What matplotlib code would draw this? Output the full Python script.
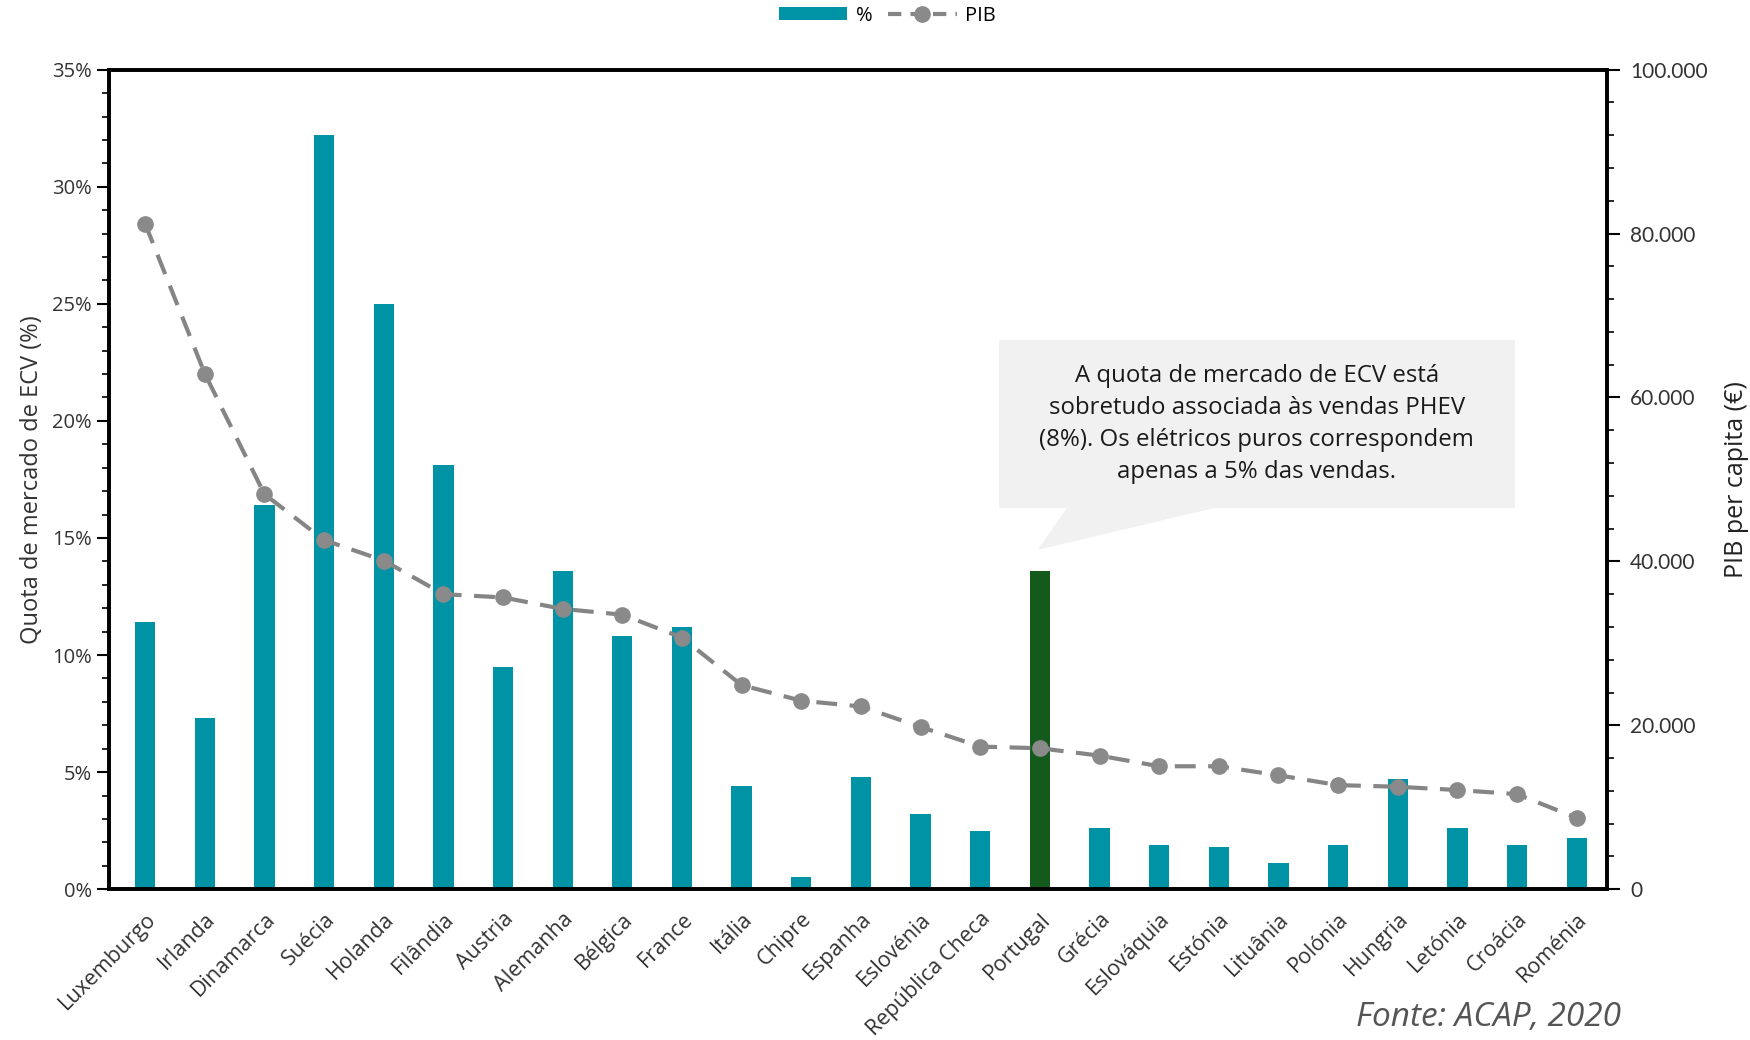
import matplotlib
matplotlib.use("Agg")
import matplotlib.pyplot as plt
from matplotlib.ticker import FuncFormatter, MultipleLocator
from matplotlib.patches import Polygon, Rectangle
from matplotlib.lines import Line2D
from matplotlib.patches import Patch

countries = ["Luxemburgo", "Irlanda", "Dinamarca", "Suécia", "Holanda", "Filândia",
             "Austria", "Alemanha", "Bélgica", "France", "Itália", "Chipre", "Espanha",
             "Eslovénia", "República Checa", "Portugal", "Grécia", "Eslováquia",
             "Estónia", "Lituânia", "Polónia", "Hungria", "Letónia", "Croácia", "Roménia"]
quota = [11.4, 7.3, 16.4, 32.2, 25.0, 18.1, 9.5, 13.6, 10.8, 11.2, 4.4, 0.5, 4.8,
         3.2, 2.5, 13.6, 2.6, 1.9, 1.8, 1.1, 1.9, 4.7, 2.6, 1.9, 2.2]
pib = [81200, 62900, 48200, 42600, 40100, 36000, 35600, 34200, 33500, 30700, 24900,
       23000, 22300, 19800, 17400, 17200, 16300, 15000, 15000, 13900, 12700, 12500,
       12100, 11600, 8700]
highlight = "Portugal"

teal = "#0093A6"
green = "#135A1C"
grey = "#858585"
txt = "#333333"

fig = plt.figure(figsize=(17.5, 10.4), dpi=100)
ax = fig.add_axes([0.0625, 0.145, 0.8555, 0.788])
x = list(range(len(countries)))
colors = [green if c == highlight else teal for c in countries]
ax.bar(x, quota, width=0.34, color=colors, zorder=2)
ax.set_xlim(-0.6, len(countries) - 0.5)
ax.set_ylim(0, 35)
ax.yaxis.set_major_locator(MultipleLocator(5))
ax.yaxis.set_minor_locator(MultipleLocator(1))
ax.yaxis.set_major_formatter(FuncFormatter(lambda v, p: f"{v:.0f}%"))
ax.tick_params(axis="y", which="major", length=9, width=1.5, labelsize=14.5, labelcolor=txt,
               direction="out")
ax.tick_params(axis="y", which="minor", length=5, width=1.2, direction="out")
for lab in ax.get_yticklabels():
    lab.set_family("Open Sans")
ax.set_xticks(x)
ax.set_xticklabels(countries, rotation=45, ha="right", rotation_mode="anchor",
                   fontsize=15.5, color=txt, family="Open Sans")
ax.tick_params(axis="x", length=0, pad=14)
ax.set_ylabel("Quota de mercado de ECV (%)", fontsize=17, color=txt, family="Open Sans",
              labelpad=6)
for s in ax.spines.values():
    s.set_linewidth(2.6)
    s.set_color("black")

ax2 = ax.twinx()
ax2.set_ylim(0, 100000)
ax2.yaxis.set_major_locator(MultipleLocator(20000))
ax2.yaxis.set_minor_locator(MultipleLocator(4000))
ax2.yaxis.set_major_formatter(FuncFormatter(lambda v, p: f"{int(v):,}".replace(",", ".")))
ax2.tick_params(axis="y", which="major", length=9, width=1.5, labelsize=15, labelcolor=txt,
                direction="out", pad=8)
ax2.tick_params(axis="y", which="minor", length=5, width=1.2, direction="out")
for lab in ax2.get_yticklabels():
    lab.set_family("Lato")
ax2.plot(x, pib, color=grey, lw=3, ls=(0, (5, 3)), marker="o", ms=11,
         markerfacecolor="#8a8a8a", markeredgecolor="#8a8a8a", zorder=3)
ax2.set_ylabel("PIB per capita (€)", fontsize=18, color="#222222", family="Open Sans",
               labelpad=12)
for s in ax2.spines.values():
    s.set_linewidth(2.6)
    s.set_color("black")

# callout box
box_col = "#F1F1F1"
ax.add_patch(Rectangle((0.594, 0.465), 0.345, 0.205, transform=ax.transAxes,
                       facecolor=box_col, edgecolor="none", zorder=1))
ax.add_patch(Polygon([(0.640, 0.466), (0.740, 0.466), (0.620, 0.414)], closed=True,
                     transform=ax.transAxes, facecolor=box_col, edgecolor="none", zorder=1))
ax.text(0.7665, 0.5675,
        "A quota de mercado de ECV está\nsobretudo associada às vendas PHEV\n"
        "(8%). Os elétricos puros correspondem\napenas a 5% das vendas.",
        transform=ax.transAxes, ha="center", va="center", fontsize=17.3,
        linespacing=1.45, color="#1a1a1a", family="Open Sans", zorder=4)

# legend
handles = [Patch(facecolor=teal, edgecolor="none"),
           Line2D([0], [0], color=grey, lw=3, ls=(0, (3.2, 2.2)), marker="o", ms=11,
                  markerfacecolor="#8a8a8a", markeredgecolor="#8a8a8a")]
fig.legend(handles, ["%", "PIB"], loc="center", bbox_to_anchor=(0.507, 0.985), ncol=2,
           frameon=False, handlelength=3.4, handleheight=0.6,
           columnspacing=0.8, handletextpad=0.4,
           prop={"family": "Open Sans", "size": 14.5})

fig.text(0.926, 0.006, "Fonte: ACAP, 2020", ha="right", va="bottom", fontsize=24,
         style="italic", color="#555555", family="Open Sans")

fig.savefig("out.png", dpi=100)
